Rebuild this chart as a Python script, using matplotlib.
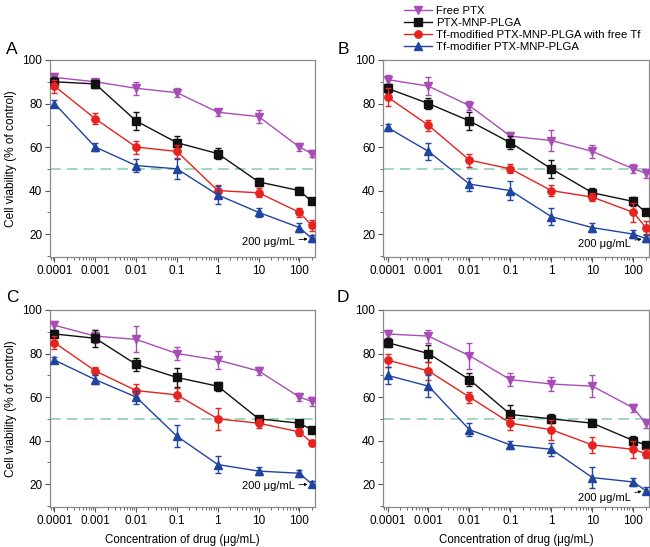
import numpy as np
import matplotlib
matplotlib.use("Agg")
import matplotlib.pyplot as plt
from matplotlib.ticker import LogLocator, MultipleLocator, FixedLocator, NullFormatter
from matplotlib.lines import Line2D

plt.rcParams['font.family'] = ['Liberation Sans', 'DejaVu Sans']

conc = [0.0001, 0.001, 0.01, 0.1, 1, 10, 100, 200]
xtick_vals = [0.0001, 0.001, 0.01, 0.1, 1, 10, 100]
xtick_labels = ['0.0001', '0.001', '0.01', '0.1', '1', '10', '100']
series_names = ['Free PTX', 'PTX-MNP-PLGA', 'Tf-modified PTX-MNP-PLGA with free Tf', 'Tf-modifier PTX-MNP-PLGA']
panel_labels = ['A', 'B', 'C', 'D']

# Panel A
A_free = [92, 90, 87, 85, 76, 74, 60, 57]
A_free_err = [2, 1.5, 3, 2, 1.5, 3, 2, 1.5]
A_mnp = [90, 89, 72, 62, 57, 44, 40, 35]
A_mnp_err = [2, 2, 4, 3, 2.5, 2, 1.5, 1]
A_tffree = [88, 73, 60, 58, 40, 39, 30, 24]
A_tffree_err = [3, 2.5, 3, 3, 2.5, 2, 2, 2.5]
A_tf = [80, 60, 51.5, 50, 38, 30, 23, 18]
A_tf_err = [1.5, 2, 3, 4.5, 4, 2, 2, 1.5]

# Panel B
B_free = [91, 88, 79, 65, 63, 58, 50, 48]
B_free_err = [2, 4, 2, 2, 5, 3, 2, 2]
B_mnp = [87, 80, 72, 62, 50, 39, 35, 30]
B_mnp_err = [2, 2.5, 4, 3, 4, 2, 2, 1]
B_tffree = [83, 70, 54, 50, 40, 37, 30, 23]
B_tffree_err = [4, 2.5, 3, 2, 2.5, 2, 4.5, 3]
B_tf = [69, 58, 43, 40, 28, 23, 20, 18]
B_tf_err = [1.5, 4, 3, 4.5, 4, 2, 2, 1.5]

# Panel C
C_free = [93, 88, 86.5, 80, 77, 72, 60, 58]
C_free_err = [2, 3, 6, 3, 4, 2, 2, 2]
C_mnp = [89, 87, 75, 69, 65, 50, 48, 45]
C_mnp_err = [2, 4, 3, 4.5, 2, 1.5, 1.5, 1]
C_tffree = [85, 72, 63, 61, 50, 48, 44, 39]
C_tffree_err = [3, 2, 3, 3, 5, 2, 2, 1.5]
C_tf = [77, 68, 60, 42, 29, 26, 25, 20]
C_tf_err = [1.5, 2, 3, 5, 4, 2, 1.5, 1.5]

# Panel D
D_free = [89, 88, 79, 68, 66, 65, 55, 48]
D_free_err = [2, 3, 6, 3, 3, 5, 2, 2]
D_mnp = [85, 80, 68, 52, 50, 48, 40, 38]
D_mnp_err = [2, 4, 3, 4.5, 2, 1.5, 2, 1]
D_tffree = [77, 72, 60, 48, 45, 38, 36, 34]
D_tffree_err = [3, 4, 2.5, 3, 4.5, 3.5, 4, 2]
D_tf = [70, 65, 45, 38, 36, 23, 21, 17]
D_tf_err = [4, 5, 3, 2, 3, 5, 2, 1.5]

panels = [
    [(A_free, A_free_err), (A_mnp, A_mnp_err), (A_tffree, A_tffree_err), (A_tf, A_tf_err)],
    [(B_free, B_free_err), (B_mnp, B_mnp_err), (B_tffree, B_tffree_err), (B_tf, B_tf_err)],
    [(C_free, C_free_err), (C_mnp, C_mnp_err), (C_tffree, C_tffree_err), (C_tf, C_tf_err)],
    [(D_free, D_free_err), (D_mnp, D_mnp_err), (D_tffree, D_tffree_err), (D_tf, D_tf_err)],
]

colors = ['#A94DB6', '#111111', '#E5231F', '#1F45A0']
markers = ['v', 's', 'o', '^']

W, H = 650, 547
fig = plt.figure(figsize=(W / 100, H / 100), dpi=100)

boxes = [(50, 315, 60, 257), (383, 649, 60, 257), (50, 315, 310, 507), (383, 649, 310, 507)]
annot_offsets = [(-17, -4), (-15, -6), (-17, -2), (-15, -7)]
spine_col = '#8a8a8a'

for i, (l, r, t, b) in enumerate(boxes):
    ax = fig.add_axes([l / W, 1 - b / H, (r - l) / W, (b - t) / H])
    for k, (vals, errs) in enumerate(panels[i]):
        ax.errorbar(conc, vals, yerr=errs, color=colors[k], marker=markers[k],
                    markersize=5.3, lw=1.0, elinewidth=1.0, capsize=2.2, capthick=1.0,
                    zorder=3 + k)
    ax.axhline(50, color='#86cca8', lw=1.1, dashes=(7, 4), zorder=1)
    ax.set_xscale('log')
    ax.set_xlim(10 ** -4.11, 10 ** 2.38)
    ax.set_ylim(9.5, 100)
    ax.xaxis.set_major_locator(FixedLocator(xtick_vals))
    ax.set_xticklabels(xtick_labels)
    ax.xaxis.set_minor_locator(LogLocator(base=10, subs=np.arange(2, 10)))
    ax.xaxis.set_minor_formatter(NullFormatter())
    ax.yaxis.set_major_locator(FixedLocator([20, 40, 60, 80, 100]))
    ax.yaxis.set_minor_locator(MultipleLocator(10))
    ax.tick_params(which='major', direction='out', length=3.5, width=0.8,
                   labelsize=8.5, color='#555555', pad=2)
    ax.tick_params(which='minor', direction='out', length=2, width=0.6, color='#555555')
    for s in ax.spines.values():
        s.set_color(spine_col)
        s.set_linewidth(0.9)
    if i in (0, 2):
        ax.set_ylabel('Cell viability (% of control)', fontsize=8.6, labelpad=4)
    if i in (2, 3):
        ax.set_xlabel('Concentration of drug (μg/mL)', fontsize=8.3, labelpad=5)
    ax.annotate('200 μg/mL', xy=(conc[-1], panels[i][3][0][-1]), xytext=annot_offsets[i],
                textcoords='offset pixels', ha='right', va='center', fontsize=8,
                arrowprops=dict(arrowstyle='-|>', color='black', lw=0.6,
                                mutation_scale=4, shrinkA=1, shrinkB=3), zorder=10)
    lx = 12 if i in (0, 2) else 343
    ly = 49 if i in (0, 1) else 297
    fig.text(lx / W, 1 - ly / H, panel_labels[i], fontsize=12.5, ha='center', va='center')

handles = [Line2D([0], [0], color=colors[k], marker=markers[k], markersize=5.3, lw=1.0)
           for k in range(4)]
fig.legend(handles, series_names, loc='upper left', bbox_to_anchor=(404 / W, 1 - 6 / H),
           frameon=False, fontsize=8.2, handlelength=2.5, handletextpad=0.35,
           labelspacing=0.18, borderaxespad=0, borderpad=0)

fig.savefig('out.png', dpi=100)
